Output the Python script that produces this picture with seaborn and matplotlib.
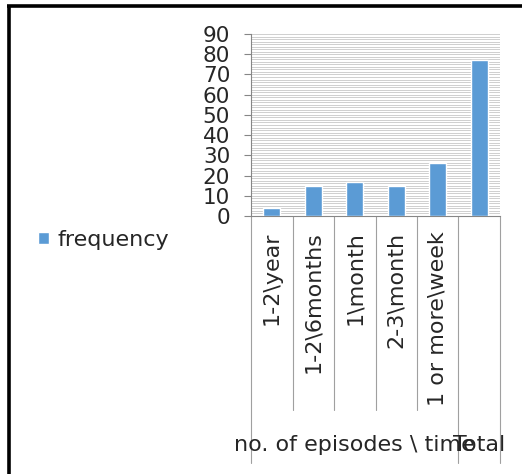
import numpy as np
import pandas as pd
import seaborn as sns
from matplotlib import pyplot as plt
from matplotlib.lines import Line2D
from matplotlib.ticker import MultipleLocator
import matplotlib.transforms as mtransforms

# data
categories = ['1-2\\year', '1-2\\6months', '1\\month', '2-3\\month', '1 or more\\week', 'Total']
frequency = [4, 15, 17, 15, 26, 77]
group_label = 'no. of episodes \\ time'
total_label = 'Total'

sns.set_style('white')
plt.rcParams['font.family'] = ['DejaVu Sans']
plt.rcParams['font.size'] = 16

df = pd.DataFrame({'category': categories, 'frequency': frequency})

fig = plt.figure(figsize=(5.24, 4.74), dpi=100)
ax = fig.add_axes([251 / 524, 1 - 216 / 474, 249 / 524, 182 / 474])

sns.barplot(data=df, x='category', y='frequency', color='#5B9BD5', width=0.42,
            saturation=1, label='frequency', ax=ax, zorder=3)

ax.set_ylim(0, 90)
ax.set_xlim(-0.5, len(categories) - 0.5)
ax.yaxis.set_major_locator(MultipleLocator(10))
ax.yaxis.set_minor_locator(MultipleLocator(1.25))
ax.grid(True, which='both', axis='y', color='#cfcfcf', linewidth=0.7, zorder=0)
ax.set_axisbelow(True)
ax.tick_params(axis='y', which='major', left=True, length=5, width=0.8, color='#868686',
               pad=10, labelsize=15.5, labelcolor='#262626')
ax.tick_params(axis='y', which='minor', left=False)
ax.tick_params(axis='x', bottom=False, labelbottom=False)
ax.set_xlabel('')
ax.set_ylabel('')
for side in ['top', 'right']:
    ax.spines[side].set_visible(False)
for side in ['left', 'bottom']:
    ax.spines[side].set_color('#868686')
    ax.spines[side].set_linewidth(0.8)

# multi-level category axis
trans = mtransforms.blended_transform_factory(ax.transData, ax.transAxes)
n = len(categories)
for i in range(n + 1):
    bottom = -1.357 if i in (0, n - 1, n) else -1.066
    ax.plot([i - 0.5, i - 0.5], [0, bottom], color='#a0a0a0', linewidth=0.8,
            transform=trans, clip_on=False)
for i, lab in enumerate(categories[:-1]):
    ax.text(i, -0.085, lab, rotation=90, ha='center', va='top', fontsize=16,
            color='#262626', transform=trans)
ax.text((n - 2) / 2, -1.258, group_label, ha='center', va='center', fontsize=16,
        color='#262626', transform=trans)
ax.text(n - 1, -1.258, total_label, ha='center', va='center', fontsize=16,
        color='#262626', transform=trans)

ax.legend(loc='center left', bbox_to_anchor=(38 / 524, 1 - 240 / 474),
          bbox_transform=fig.transFigure, frameon=False, borderpad=0,
          borderaxespad=0, handlelength=0.5, handleheight=0.5,
          handletextpad=0.4, fontsize=16, labelcolor='#262626')

# outer frame (left and top edges visible)
fig.add_artist(Line2D([9 / 524, 9 / 524], [-0.05, 1 - 5.5 / 474], color='black',
                      linewidth=2.6, solid_capstyle='butt', transform=fig.transFigure))
fig.add_artist(Line2D([7 / 524, 522 / 524], [1 - 5.5 / 474, 1 - 5.5 / 474], color='black',
                      linewidth=2.6, solid_capstyle='butt', transform=fig.transFigure))

plt.savefig('out.png', dpi=100)
plt.close()
